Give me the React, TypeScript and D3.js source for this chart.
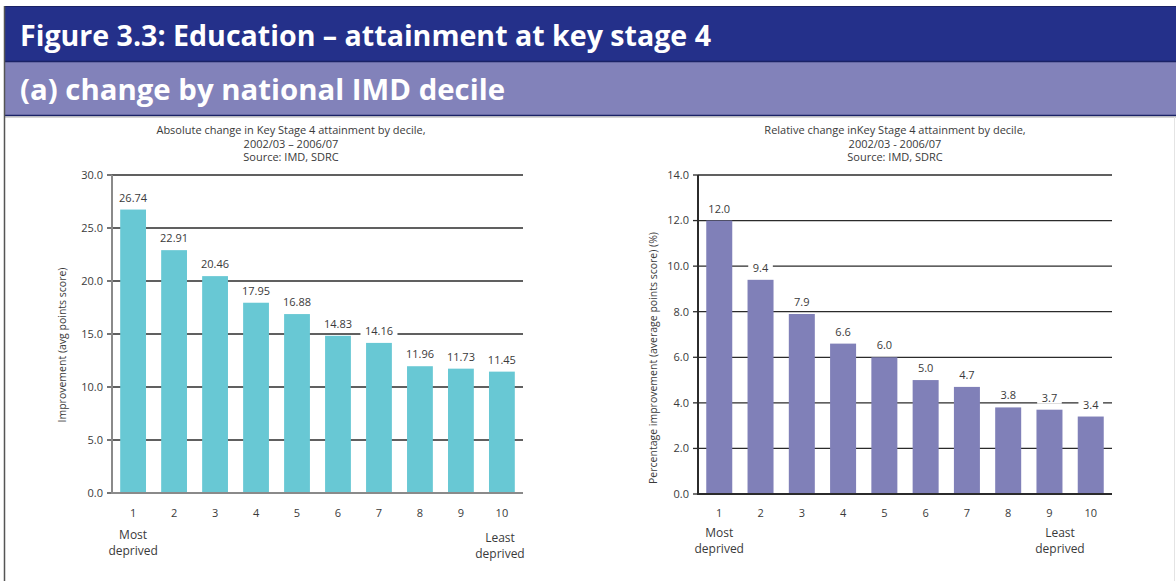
import * as d3 from "d3";

// deciles shared by both panels
const deciles = ["1", "2", "3", "4", "5", "6", "7", "8", "9", "10"];

// left panel: absolute change (avg points score)
const absoluteChange = [26.74, 22.91, 20.46, 17.95, 16.88, 14.83, 14.16, 11.96, 11.73, 11.45];
const absoluteTicks = [0, 5, 10, 15, 20, 25, 30];

// right panel: relative change (%)
const relativeChange = [12.0, 9.4, 7.9, 6.6, 6.0, 5.0, 4.7, 3.8, 3.7, 3.4];
const relativeTicks = [0, 2, 4, 6, 8, 10, 12, 14];

const W = 1176;
const H = 581;
const FONT = "'Open Sans', 'Noto Sans', sans-serif";

type PanelProps = {
  values: number[];
  ticks: number[];
  labelDecimals: number;
  color: string;
  left: number;
  right: number;
  top: number;
  bottom: number;
  titleLines: string[];
  titleX: number;
  yTitle: string;
  yTitleX: number;
  yTitleY: number;
  axisColor: string;
  leastX: number;
  leastY: number;
  mostY: number;
};

const Panel = (p: PanelProps) => {
  const x = d3.scaleBand<string>().domain(deciles).range([p.left, p.right]).paddingInner(0.37).paddingOuter(0.2);
  const y = d3.scaleLinear().domain([0, d3.max(p.ticks) as number]).range([p.bottom, p.top]);
  const tickFmt = d3.format(".1f");
  const labelFmt = d3.format(`.${p.labelDecimals}f`);
  const bw = x.bandwidth();
  const firstX = (x(deciles[0]) as number) + bw / 2;

  return (
    <g fontFamily={FONT} fill="#3a3a3a">
      {p.titleLines.map((t, i) => (
        <text key={t} x={p.titleX} y={134 + i * 13.5} fontSize={11} textAnchor="middle">
          {t}
        </text>
      ))}
      {/* gridlines + ticks */}
      {p.ticks.map((t) => (
        <g key={t}>
          {t > 0 && (
            <line x1={p.left} x2={p.right} y1={y(t)} y2={y(t)} stroke="#2b2b2b" strokeWidth={1.3} />
          )}
          <line x1={p.left - 5} x2={p.left} y1={y(t)} y2={y(t)} stroke="#2b2b2b" strokeWidth={1.3} />
          <text x={p.left - 9} y={y(t)} dy="0.35em" fontSize={11} textAnchor="end">
            {tickFmt(t)}
          </text>
        </g>
      ))}
      {/* bars */}
      {p.values.map((v, i) => (
        <rect key={i} x={x(deciles[i])} y={y(v)} width={bw} height={y(0) - y(v)} fill={p.color} />
      ))}
      {/* value labels */}
      {p.values.map((v, i) => {
        const cx = (x(deciles[i]) as number) + bw / 2;
        const label = labelFmt(v);
        const lw = label.length * 6.2 + 6;
        return (
          <g key={`l${i}`}>
            <rect x={cx - lw / 2} y={y(v) - 19} width={lw} height={13} fill="#fff" />
            <text x={cx} y={y(v) - 8} fontSize={11} textAnchor="middle">
              {label}
            </text>
          </g>
        );
      })}
      {/* axes */}
      <line x1={p.left} x2={p.left} y1={p.top} y2={p.bottom + 1} stroke={p.axisColor} strokeWidth={2} />
      <line x1={p.left} x2={p.right} y1={p.bottom} y2={p.bottom} stroke={p.axisColor} strokeWidth={2} />
      {deciles.map((d) => (
        <text key={d} x={(x(d) as number) + bw / 2} y={517} fontSize={11} textAnchor="middle">
          {d}
        </text>
      ))}
      <text x={firstX} y={p.mostY} fontSize={12} textAnchor="middle">
        <tspan x={firstX}>Most</tspan>
        <tspan x={firstX} dy={16}>deprived</tspan>
      </text>
      <text x={p.leastX} y={p.leastY} fontSize={12} textAnchor="middle">
        <tspan x={p.leastX}>Least</tspan>
        <tspan x={p.leastX} dy={16}>deprived</tspan>
      </text>
      <text
        transform={`translate(${p.yTitleX},${p.yTitleY}) rotate(-90)`}
        fontSize={10.5}
        textAnchor="middle"
      >
        {p.yTitle}
      </text>
    </g>
  );
};

export default function App() {
  return (
    <svg width={W} height={H} style={{ position: "absolute", left: 0, top: 0 }}>
      <rect x={0} y={0} width={W} height={H} fill="#fff" />
      {/* header bands */}
      <rect x={4} y={6} width={W - 4} height={55} fill="#24308a" />
      <line x1={4} x2={W} y1={6.5} y2={6.5} stroke="#1a2266" strokeWidth={1} />
      <rect x={4} y={62} width={W - 4} height={53} fill="#8282ba" />
      <line x1={4} x2={W} y1={61.5} y2={61.5} stroke="#1a2266" strokeWidth={1.5} />
      <line x1={4} x2={W} y1={115.5} y2={115.5} stroke="#1a2266" strokeWidth={1.5} />
      <line x1={4} x2={W} y1={117} y2={117} stroke="#aaa" strokeWidth={1} />
      <line x1={4.5} x2={4.5} y1={6} y2={H} stroke="#555" strokeWidth={1.5} />
      <line x1={1174.5} x2={1174.5} y1={117} y2={H} stroke="#e4e4e4" strokeWidth={1} />
      <text
        x={20}
        y={46}
        fill="#fff"
        fontFamily={FONT}
        fontWeight="bold"
        fontSize={29}
        textLength={691}
        lengthAdjust="spacingAndGlyphs"
      >
        Figure 3.3: Education – attainment at key stage 4
      </text>
      <text
        x={20}
        y={100}
        fill="#fff"
        fontFamily={FONT}
        fontWeight="bold"
        fontSize={29}
        textLength={485}
        lengthAdjust="spacingAndGlyphs"
      >
        (a)  change by national IMD decile
      </text>

      <Panel
        values={absoluteChange}
        ticks={absoluteTicks}
        labelDecimals={2}
        color="#68c8d4"
        left={112}
        right={523}
        top={175}
        bottom={493}
        titleLines={[
          "Absolute change in Key Stage 4 attainment by decile,",
          "2002/03 – 2006/07",
          "Source: IMD, SDRC",
        ]}
        titleX={291}
        yTitle="Improvement (avg points score)"
        yTitleX={66}
        yTitleY={345}
        axisColor="#8a8a8a"
        leastX={500}
        leastY={542}
        mostY={539}
      />
      <Panel
        values={relativeChange}
        ticks={relativeTicks}
        labelDecimals={1}
        color="#8080b8"
        left={698}
        right={1112}
        top={175}
        bottom={494}
        titleLines={[
          "Relative change inKey Stage 4 attainment by decile,",
          "2002/03 - 2006/07",
          "Source: IMD, SDRC",
        ]}
        titleX={895}
        yTitle="Percentage improvement (average points score) (%)"
        yTitleX={657}
        yTitleY={358}
        axisColor="#2b2b2b"
        leastX={1060}
        leastY={537}
        mostY={537}
      />
    </svg>
  );
}
